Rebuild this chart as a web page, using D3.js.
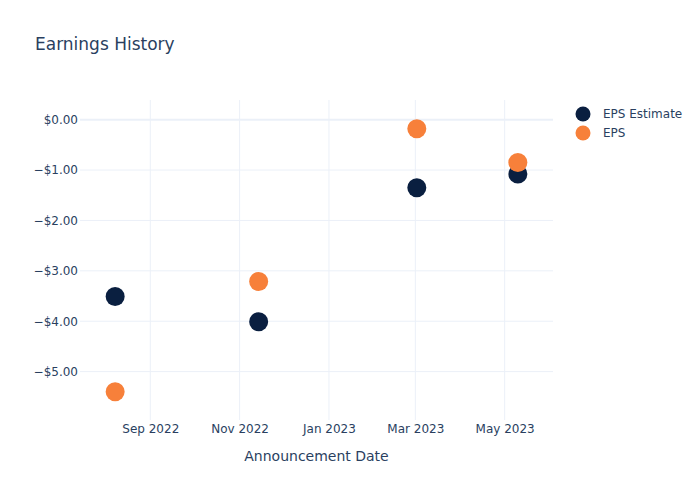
<!DOCTYPE html>
<html><head><meta charset="utf-8">
<script src="https://cdn.jsdelivr.net/npm/d3@7"></script>
<style>body{margin:0;background:#fff;}text{font-family:"DejaVu Sans",Verdana,sans-serif;}</style>
</head><body>
<svg id="c" width="700" height="500"></svg>
<script>
const dates = ["2022-08-08","2022-11-14","2023-03-02","2023-05-10"];
const epsEstimate = [-3.51, -4.01, -1.35, -1.08];
const eps = [-5.40, -3.21, -0.18, -0.85];
const yTicks = [0, -1, -2, -3, -4, -5];
const xTicks = ["2022-09-01","2022-11-01","2023-01-01","2023-03-01","2023-05-01"];
const seriesNames = ["EPS Estimate", "EPS"];
const colors = ["#0a1f40", "#f7803a"];

const svg = d3.select("#c");
const parse = d3.utcParse("%Y-%m-%d");
const m = {l:80, r:553, t:100, b:420};
const x = d3.scaleUtc().domain([parse("2022-07-15"), parse("2023-06-03")]).range([m.l, m.r]);
const y = d3.scaleLinear().domain([0.39, -5.96]).range([m.t, m.b]);
const txt = "#2a3f5f", grid = "#ebf0f8";

svg.append("text").attr("x",35).attr("y",50).attr("fill",txt).attr("font-size",17).text("Earnings History");

// gridlines
const g = svg.append("g");
g.selectAll("line.v").data(xTicks).join("line")
  .attr("x1",d=>x(parse(d))).attr("x2",d=>x(parse(d))).attr("y1",m.t).attr("y2",m.b)
  .attr("stroke",grid).attr("stroke-width",1);
g.selectAll("line.h").data(yTicks).join("line")
  .attr("x1",m.l).attr("x2",m.r).attr("y1",d=>y(d)).attr("y2",d=>y(d))
  .attr("stroke",grid).attr("stroke-width",d=>d===0?2:1);

// axes
const fmt = d => (d<0?"\u2212":"") + "$" + Math.abs(d).toFixed(2);
const ya = d3.axisLeft(y).tickValues(yTicks).tickFormat(fmt).tickSize(0).tickPadding(2);
const yg = svg.append("g").attr("transform",`translate(${m.l},0)`).call(ya);
yg.select(".domain").remove();
yg.selectAll("text").attr("fill",txt).attr("font-size",12).attr("font-family","DejaVu Sans");

const xa = d3.axisBottom(x).tickValues(xTicks.map(parse)).tickFormat(d3.utcFormat("%b %Y")).tickSize(0).tickPadding(4);
const xg = svg.append("g").attr("transform",`translate(0,${m.b})`).call(xa);
xg.select(".domain").remove();
xg.selectAll("text").attr("fill",txt).attr("font-size",12).attr("font-family","DejaVu Sans");

svg.append("text").attr("x",(m.l+m.r)/2).attr("y",461).attr("text-anchor","middle")
  .attr("fill",txt).attr("font-size",14).text("Announcement Date");

// points
[epsEstimate, eps].forEach((vals,i)=>{
  svg.append("g").selectAll("circle").data(vals).join("circle")
    .attr("cx",(d,j)=>x(parse(dates[j]))).attr("cy",d=>y(d)).attr("r",9.5)
    .attr("fill",colors[i]);
});

// legend
const lg = svg.append("g");
seriesNames.forEach((n,i)=>{
  lg.append("circle").attr("cx",583).attr("cy",114+19*i).attr("r",7.5).attr("fill",colors[i]);
  lg.append("text").attr("x",603).attr("y",118+19*i).attr("fill",txt).attr("font-size",12).text(n);
});
</script>
</body></html>
